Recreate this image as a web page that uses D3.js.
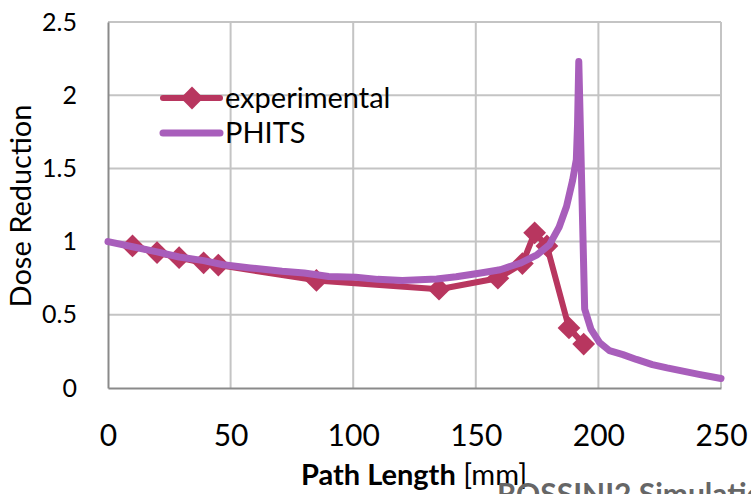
<!DOCTYPE html>
<html>
<head>
<meta charset="utf-8">
<script src="https://cdn.jsdelivr.net/npm/d3@7"></script>
<style>
  html, body { margin: 0; padding: 0; background: #fff; overflow: hidden; }
  svg { display: block; font-family: Lato, "Open Sans", sans-serif; }
</style>
</head>
<body>
<div id="chart"></div>
<script>
// experimental points (path length mm, dose reduction)
var expX = [10, 20, 29, 39, 45, 85, 135, 159, 169, 174, 179, 188, 194];
var expY = [0.97, 0.925, 0.89, 0.855, 0.84, 0.735, 0.675, 0.75, 0.85, 1.06, 0.97, 0.41, 0.30];

// PHITS simulation curve
var phitsX = [0, 10, 20, 29, 39, 47, 58, 71, 80, 90, 101, 110, 120, 134, 142, 152, 160, 168, 175, 180,
              184, 187, 189.5, 191, 191.5, 192, 194.4, 197, 200.5, 204.5, 210, 215.5, 222, 228, 234.5, 241, 250];
var phitsY = [1.0, 0.965, 0.93, 0.895, 0.87, 0.842, 0.82, 0.797, 0.785, 0.762, 0.757, 0.742, 0.735, 0.745, 0.76, 0.786, 0.808, 0.852, 0.91, 0.978,
              1.10, 1.24, 1.42, 1.56, 1.80, 2.23, 0.54, 0.40, 0.31, 0.255, 0.228, 0.195, 0.16, 0.137, 0.115, 0.093, 0.065];

var xTicks = [0, 50, 100, 150, 200, 250];
var yTicks = [0, 0.5, 1, 1.5, 2, 2.5];
var seriesNames = ["experimental", "PHITS"];

var W = 751, H = 494;
var margin = {left: 108, right: 30, top: 22, bottom: 106};
var expColor = "#b8365f", phitsColor = "#a85ebb";

var svg = d3.select("#chart").append("svg").attr("width", W).attr("height", H);

var x = d3.scaleLinear().domain([0, 250]).range([margin.left, W - margin.right]);
var y = d3.scaleLinear().domain([0, 2.5]).range([H - margin.bottom, margin.top]);

// gridlines
svg.append("g").selectAll("line.hgrid")
    .data(yTicks.slice(1))
    .join("line").attr("class", "hgrid")
    .attr("x1", x(0)).attr("x2", x(250))
    .attr("y1", d => y(d)).attr("y2", d => y(d))
    .attr("stroke", "#c4c4c4").attr("stroke-width", 2);
svg.append("g").selectAll("line.vgrid")
    .data(xTicks.slice(1))
    .join("line").attr("class", "vgrid")
    .attr("x1", d => x(d)).attr("x2", d => x(d))
    .attr("y1", y(0)).attr("y2", y(2.5))
    .attr("stroke", "#c4c4c4").attr("stroke-width", 2);

// axes
var xAxis = svg.append("g")
    .attr("transform", "translate(0," + y(0) + ")")
    .call(d3.axisBottom(x).tickValues(xTicks).tickSize(0).tickPadding(37).tickFormat(d3.format("d")));
xAxis.select(".domain").attr("stroke", "#8a8a8a").attr("stroke-width", 2);
xAxis.selectAll("text").attr("font-size", "30px").attr("fill", "#000").attr("font-family", "Lato");

var yAxis = svg.append("g")
    .attr("transform", "translate(" + x(0) + ",0)")
    .call(d3.axisLeft(y).tickValues(yTicks).tickSize(0).tickPadding(31).tickFormat(d => String(d)));
yAxis.select(".domain").attr("stroke", "#8a8a8a").attr("stroke-width", 2);
yAxis.selectAll("text").attr("font-size", "25px").attr("fill", "#000").attr("font-family", "Lato");

// axis titles
var xt = svg.append("text")
    .attr("x", 414).attr("y", 485)
    .attr("text-anchor", "middle")
    .attr("font-size", "29px").attr("fill", "#000");
xt.append("tspan").attr("font-weight", "bold").text("Path Length");
xt.append("tspan").text(" [mm]");

svg.append("text")
    .attr("transform", "translate(31," + 206 + ") rotate(-90)")
    .attr("text-anchor", "middle")
    .attr("font-size", "29px").attr("fill", "#000")
    .text("Dose Reduction");

// cut-off caption under the chart
svg.append("text")
    .attr("x", 497).attr("y", 505)
    .attr("font-size", "30px").attr("font-weight", "bold").attr("fill", "#666")
    .text("ROSSINI2 Simulation");

// series
var line = d3.line().x(d => x(d[0])).y(d => y(d[1]));
var expData = expX.map((v, i) => [v, expY[i]]);
var phitsData = phitsX.map((v, i) => [v, phitsY[i]]);

var diamond = d3.symbol().type(d3.symbolDiamond2).size(330);

svg.append("path")
    .datum(expData)
    .attr("d", line)
    .attr("fill", "none").attr("stroke", expColor).attr("stroke-width", 6)
    .attr("stroke-linejoin", "round");
svg.append("g").selectAll("path.mk")
    .data(expData)
    .join("path").attr("class", "mk")
    .attr("d", diamond)
    .attr("transform", d => "translate(" + x(d[0]) + "," + y(d[1]) + ")")
    .attr("fill", expColor);

svg.append("path")
    .datum(phitsData)
    .attr("d", line)
    .attr("fill", "none").attr("stroke", phitsColor).attr("stroke-width", 7)
    .attr("stroke-linejoin", "round").attr("stroke-linecap", "round");

// legend
var legend = svg.append("g").attr("transform", "translate(163,98)");
seriesNames.forEach(function(name, i) {
    var g = legend.append("g").attr("transform", "translate(0," + (i * 35) + ")");
    g.append("line").attr("x1", 0).attr("x2", 57).attr("y1", 0).attr("y2", 0)
        .attr("stroke", i === 0 ? expColor : phitsColor)
        .attr("stroke-width", i === 0 ? 6 : 7).attr("stroke-linecap", "round");
    if (i === 0) {
        g.append("path").attr("d", diamond).attr("transform", "translate(29,0)").attr("fill", expColor);
    }
    g.append("text").attr("x", 62).attr("y", 10)
        .attr("font-size", "29px").attr("fill", "#000")
        .text(name);
});
</script>
</body>
</html>
